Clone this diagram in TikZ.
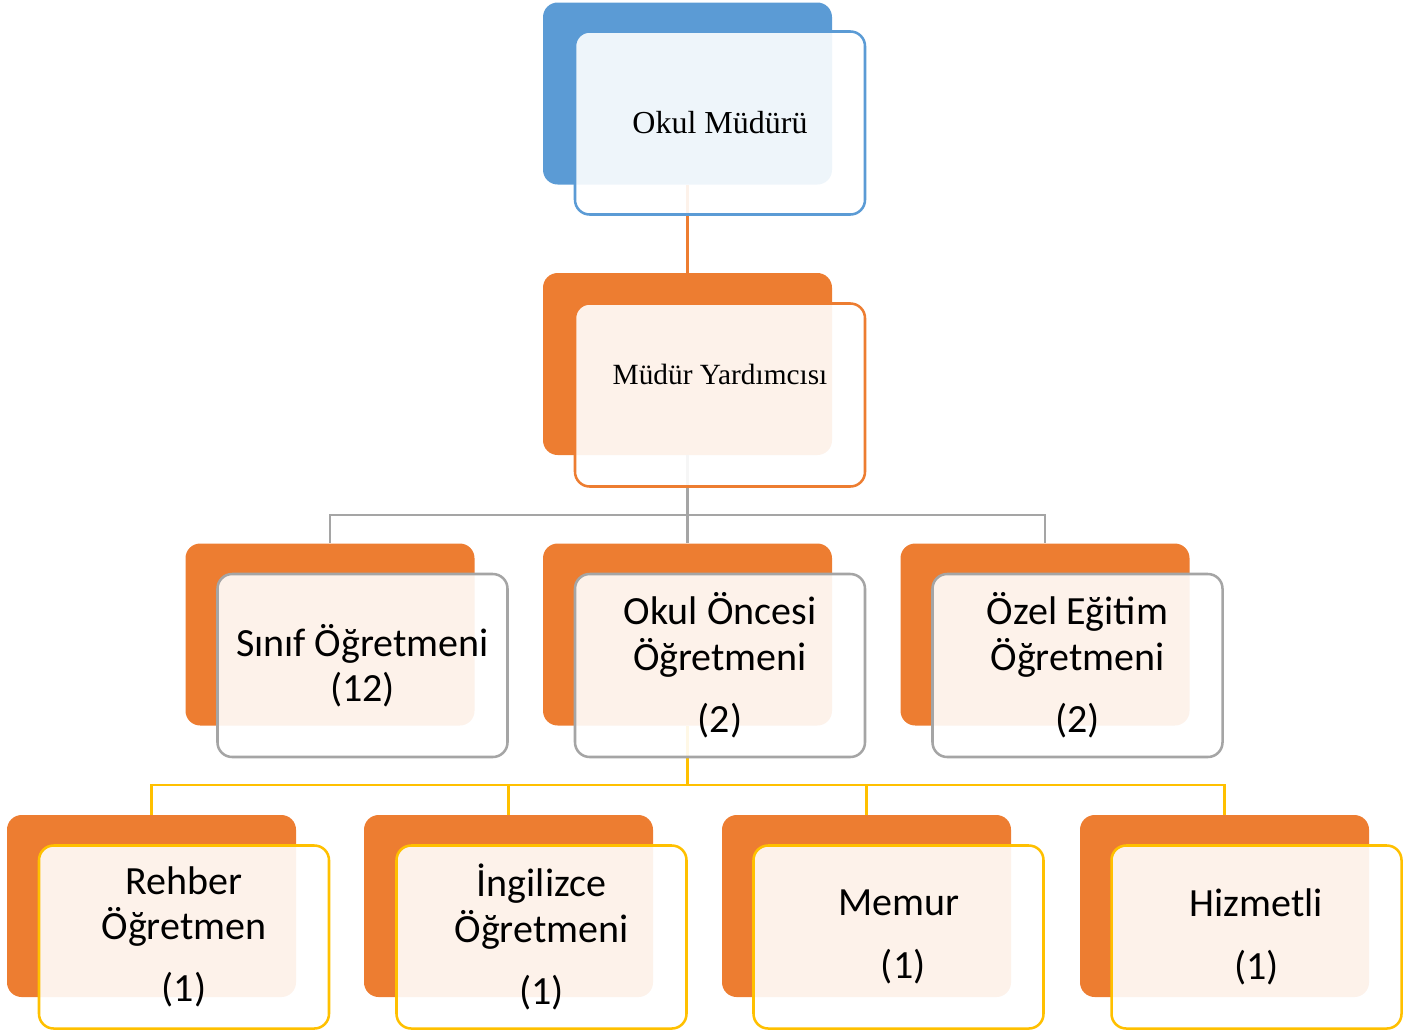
\documentclass[tikz,border=0pt]{standalone}
\usepackage{fontspec}
\setmainfont{Liberation Serif}
\newfontfamily\boxfont{Carlito}

\definecolor{accblue}{HTML}{5B9BD5}
\definecolor{accorange}{HTML}{ED7D31}
\definecolor{accgray}{HTML}{A5A5A5}
\definecolor{accgold}{HTML}{FFC000}

\tikzset{
  backbox/.style={rectangle, rounded corners=11pt, inner sep=0pt,
    minimum width=216.75pt, minimum height=136.5pt, fill=accorange},
  frontbox/.style={rectangle, rounded corners=11pt, inner sep=0pt,
    minimum width=217.5pt, minimum height=137.25pt, line width=1.9pt,
    fill=white, fill opacity=0.9, text opacity=1, align=center},
  bigtext/.style={font=\boxfont\fontsize{30}{34}\selectfont},
  link/.style={line width=2.1pt}
}

\begin{document}
\begin{tikzpicture}[x=0.75pt,y=-0.75pt]
    \useasboundingbox (0,0) rectangle (1423,1032);

    % Back boxes
      \node[backbox, fill=accblue] (mudur-b) at (687.5,93.5) {};
      \node[backbox] (yard-b)   at (687.5,364) {};
      \node[backbox] (sinif-b)  at (330,634.5) {};
      \node[backbox] (oncesi-b) at (687.5,634.5) {};
      \node[backbox] (ozel-b)   at (1045,634.5) {};
      \node[backbox] (rehber-b) at (151.5,906) {};
      \node[backbox] (ing-b)    at (508.5,906) {};
      \node[backbox] (memur-b)  at (866.5,906) {};
      \node[backbox] (hizm-b)   at (1224.5,906) {};

      % Links
      \coordinate (bus1) at (687.5,515);
      \coordinate (bus2) at (687.5,785);
      \draw[link, accorange] (mudur-b.south) -- (yard-b.north);
      \draw[link, accgray] (yard-b.south) -- (oncesi-b.north);
      \draw[link, accgray] (bus1) -| (sinif-b.north);
      \draw[link, accgray] (bus1) -| (ozel-b.north);
      \draw[link, accgold] (oncesi-b.south) -- (bus2);
      \draw[link, accgold] (bus2) -| (rehber-b.north);
      \draw[link, accgold] (bus2) -| (ing-b.north);
      \draw[link, accgold] (bus2) -| (memur-b.north);
      \draw[link, accgold] (bus2) -| (hizm-b.north);

      % Front boxes
      \node[frontbox, draw=accblue, font=\fontsize{24}{28}\selectfont] (mudur) at (720,123) {Okul Müdürü};
      \node[frontbox, draw=accorange] (yard) at (720,395) {};
      \node[font=\fontsize{22}{26}\selectfont] (yard-lbl) at (720,374) {Müdür Yardımcısı};
      \node[frontbox, draw=accgray, bigtext] (sinif)  at (362.5,665.5) {Sınıf Öğretmeni\\(12)};
      \node[frontbox, draw=accgray, bigtext] (oncesi) at (720,665.5) {Okul Öncesi\\Öğretmeni\\[12.75pt](2)};
      \node[frontbox, draw=accgray, bigtext] (ozel)   at (1077.5,665.5) {Özel Eğitim\\Öğretmeni\\[12.75pt](2)};
      \node[frontbox, draw=accgold, bigtext] (rehber) at (184,937) {Rehber\\Öğretmen\\[12.75pt](1)};
      \node[frontbox, draw=accgold, bigtext] (ing)    at (541.5,937) {İngilizce\\Öğretmeni\\[12.75pt](1)};
      \node[frontbox, draw=accgold, bigtext] (memur)  at (898.5,937) {Memur\\[12.75pt]\hspace*{7pt}(1)};
      \node[frontbox, draw=accgold, bigtext] (hizm)   at (1256.5,937) {Hizmetli\\[12.75pt](1)};
  \end{tikzpicture}
\end{document}
